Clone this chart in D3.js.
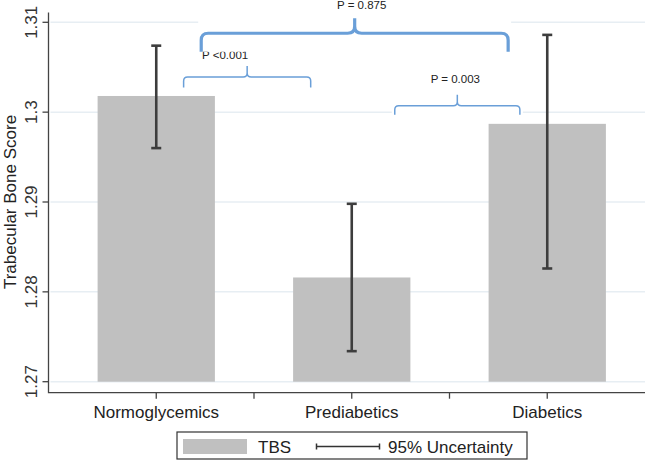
<!DOCTYPE html>
<html>
<head>
<meta charset="utf-8">
<script src="https://cdn.jsdelivr.net/npm/d3@7"></script>
<style>
  body { margin: 0; background: #fff; }
  text { font-family: "Liberation Sans", Arial, sans-serif; }
</style>
</head>
<body>
<svg id="chart"></svg>
<script>
// data
var groups = ["Normoglycemics", "Prediabetics", "Diabetics"];
var tbsMean = [1.3018, 1.2816, 1.2987];
var ciLow = [1.2960, 1.2734, 1.2826];
var ciHigh = [1.3074, 1.2898, 1.3086];
var yTicks = [1.27, 1.28, 1.29, 1.30, 1.31];
var yTickLabels = ["1.27", "1.28", "1.29", "1.3", "1.31"];

// p-value brackets: from/to in group-index units, level in score units
var pLabels = ["P <0.001", "P = 0.003", "P = 0.875"];
var pFrom = [0.14, 1.22, 0.23];
var pTo = [0.79, 1.86, 1.80];
var pLevel = [1.3039, 1.3007, 1.30878];

var width = 657;
var height = 464;
var margin = { left: 48.5, right: 12, top: 12.5, bottom: 71.5 };

var svg = d3.select('#chart')
            .attr('width', width)
            .attr('height', height);

var xScale = d3.scaleBand()
               .domain(groups)
               .range([58.5, 645])
               .paddingInner(0.4)
               .paddingOuter(0.2);

var yScale = d3.scaleLinear()
               .domain([1.27, 1.31])
               .range([381.7, 22.3]);

// group index -> pixel, for the brackets
var idxScale = d3.scaleLinear()
                 .domain([0, groups.length - 1])
                 .range([xScale(groups[0]) + xScale.bandwidth() / 2,
                         xScale(groups[groups.length - 1]) + xScale.bandwidth() / 2]);

var axisX = margin.left;
var axisY = height - margin.bottom + 0.2;
var plotRight = width - margin.right;

// gridlines
svg.append('g')
   .selectAll('line')
   .data(yTicks)
   .enter()
   .append('line')
   .attr('x1', axisX + 2)
   .attr('x2', plotRight)
   .attr('y1', function (d) { return yScale(d); })
   .attr('y2', function (d) { return yScale(d); })
   .style('stroke', '#e7eef3')
   .style('stroke-width', 1.5);

// bars
svg.append('g')
   .selectAll('rect')
   .data(groups)
   .enter()
   .append('rect')
   .attr('x', function (d) { return xScale(d); })
   .attr('width', xScale.bandwidth())
   .attr('y', function (d, i) { return yScale(tbsMean[i]); })
   .attr('height', function (d, i) { return yScale(1.27) - yScale(tbsMean[i]); })
   .style('fill', '#c0c0c0');

// error bars
var eb = svg.append('g')
            .selectAll('g')
            .data(groups)
            .enter()
            .append('g')
            .style('stroke', '#3d3d3d')
            .style('stroke-width', 2.6);

eb.append('line')
  .attr('x1', function (d) { return xScale(d) + xScale.bandwidth() / 2; })
  .attr('x2', function (d) { return xScale(d) + xScale.bandwidth() / 2; })
  .attr('y1', function (d, i) { return yScale(ciLow[i]); })
  .attr('y2', function (d, i) { return yScale(ciHigh[i]); });

[ciLow, ciHigh].forEach(function (arr) {
  eb.append('line')
    .attr('x1', function (d) { return xScale(d) + xScale.bandwidth() / 2 - 5; })
    .attr('x2', function (d) { return xScale(d) + xScale.bandwidth() / 2 + 5; })
    .attr('y1', function (d, i) { return yScale(arr[i]); })
    .attr('y2', function (d, i) { return yScale(arr[i]); });
});

// axes
var yAxis = d3.axisLeft(yScale)
              .tickValues(yTicks)
              .tickSize(6)
              .tickSizeOuter(0)
              .tickFormat(function (d, i) { return yTickLabels[i]; });

var yg = svg.append('g')
            .attr('transform', 'translate(' + axisX + ',0)')
            .call(yAxis);
yg.select('.domain').remove();
yg.selectAll('line').style('stroke', '#444').style('stroke-width', 1.3);
yg.selectAll('text')
  .attr('transform', function (d) { return 'translate(-12,' + yScale(d) + ') rotate(-90)'; })
  .attr('x', 0)
  .attr('y', 0)
  .attr('dy', 0)
  .attr('text-anchor', 'middle')
  .style('font-size', '17px')
  .style('fill', '#333');
yg.selectAll('.tick').attr('transform', null);
yg.selectAll('.tick line')
  .attr('y1', function (d) { return yScale(d); })
  .attr('y2', function (d) { return yScale(d); });

var xAxis = d3.axisBottom(xScale).tickSize(6).tickSizeOuter(0);
var xg = svg.append('g')
            .attr('transform', 'translate(0,' + axisY + ')')
            .call(xAxis);
xg.select('.domain').remove();
xg.selectAll('line').style('stroke', '#444').style('stroke-width', 1.3);
xg.selectAll('text')
  .attr('y', 25)
  .attr('dy', 0)
  .style('font-size', '17px')
  .style('fill', '#222');

// ticks between groups
xg.selectAll('.sep')
  .data(groups.slice(1))
  .enter()
  .append('line')
  .attr('class', 'sep')
  .attr('x1', function (d) { return xScale(d) - xScale.step() * xScale.paddingInner() / 2; })
  .attr('x2', function (d) { return xScale(d) - xScale.step() * xScale.paddingInner() / 2; })
  .attr('y1', 0)
  .attr('y2', 6)
  .style('stroke', '#444')
  .style('stroke-width', 1.3);

svg.append('path')
   .attr('d', 'M' + axisX + ',' + margin.top + 'V' + axisY + 'H' + plotRight)
   .style('fill', 'none')
   .style('stroke', '#444')
   .style('stroke-width', 1.3);

svg.append('text')
   .attr('transform', 'translate(16,' + yScale(1.29) + ') rotate(-90)')
   .attr('text-anchor', 'middle')
   .style('font-size', '17px')
   .style('fill', '#222')
   .text('Trabecular Bone Score');

// p-value brackets
function bracketPath(x0, x1, yH, drop, rise, r) {
  var xm = (x0 + x1) / 2;
  return 'M' + x0 + ',' + (yH + drop) +
         'L' + x0 + ',' + (yH + r) +
         'Q' + x0 + ',' + yH + ',' + (x0 + r) + ',' + yH +
         'L' + (xm - r) + ',' + yH +
         'Q' + xm + ',' + yH + ',' + xm + ',' + (yH - r) +
         'L' + xm + ',' + (yH - rise) +
         'M' + xm + ',' + (yH - r) +
         'Q' + xm + ',' + yH + ',' + (xm + r) + ',' + yH +
         'L' + (x1 - r) + ',' + yH +
         'Q' + x1 + ',' + yH + ',' + x1 + ',' + (yH + r) +
         'L' + x1 + ',' + (yH + drop);
}

var bDrop = [10.5, 9, 18.5];
var bRise = [11, 11, 15];
var bWidth = [1.5, 1.5, 3.2];
var bRad = [4, 4, 7];
var bTextDx = [-22, -2, 7];
var bTextDy = [-18, -23, -24.5];

var br = svg.append('g')
            .selectAll('g')
            .data(pLabels)
            .enter()
            .append('g');

br.append('rect')
  .attr('x', function (d, i) { return idxScale(pFrom[i]) - 3; })
  .attr('width', function (d, i) { return idxScale(pTo[i]) - idxScale(pFrom[i]) + 6; })
  .attr('y', function (d, i) { return yScale(pLevel[i]) - bRise[i] - 2; })
  .attr('height', function (d, i) { return bRise[i] + bDrop[i] + 2; })
  .style('fill', '#fff');

br.append('path')
  .attr('d', function (d, i) {
    return bracketPath(idxScale(pFrom[i]), idxScale(pTo[i]), yScale(pLevel[i]),
                       bDrop[i], bRise[i], bRad[i]);
  })
  .style('fill', 'none')
  .style('stroke', '#6a9fd8')
  .style('stroke-width', function (d, i) { return bWidth[i]; });

br.append('text')
  .attr('x', function (d, i) { return (idxScale(pFrom[i]) + idxScale(pTo[i])) / 2 + bTextDx[i]; })
  .attr('y', function (d, i) { return yScale(pLevel[i]) + bTextDy[i]; })
  .attr('text-anchor', 'middle')
  .style('font-size', '11.5px')
  .style('fill', '#222')
  .text(function (d) { return d; });

// legend
var lg = svg.append('g');
lg.append('rect')
  .attr('x', 177).attr('y', 432).attr('width', 350).attr('height', 27)
  .style('fill', '#fff').style('stroke', '#333').style('stroke-width', 1.2);
lg.append('rect')
  .attr('x', 183).attr('y', 439).attr('width', 64).attr('height', 15)
  .style('fill', '#c0c0c0');
lg.append('text')
  .attr('x', 258).attr('y', 453)
  .style('font-size', '17px').style('fill', '#222')
  .text('TBS');
lg.append('path')
  .attr('d', 'M316,446.5H380M316.5,443.5V449.5M379.5,443.5V449.5')
  .style('fill', 'none').style('stroke', '#333').style('stroke-width', 1.5);
lg.append('text')
  .attr('x', 388).attr('y', 453)
  .style('font-size', '17px').style('fill', '#222')
  .text('95% Uncertainty');
</script>
</body>
</html>
